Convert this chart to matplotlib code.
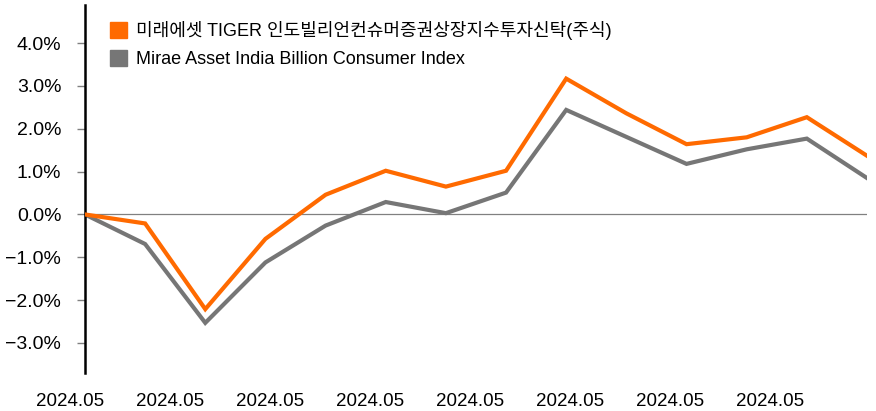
"""Mirae TIGER India Billion Consumer ETF vs. index, cumulative return."""

import matplotlib
matplotlib.use("Agg")
import matplotlib.pyplot as plt
from matplotlib.patches import Patch

plt.rcParams["font.family"] = ["Liberation Sans", "Noto Sans CJK KR"]

FUND_LABEL = "미래에셋 TIGER 인도빌리언컨슈머증권상장지수투자신탁(주식)"
INDEX_LABEL = "Mirae Asset India Billion Consumer Index"

fund = [0.0, -0.21, -2.21, -0.57, 0.46, 1.02, 0.65, 1.02, 3.17, 2.36, 1.64, 1.80, 2.27, 1.37]
index = [0.0, -0.69, -2.53, -1.12, -0.26, 0.29, 0.03, 0.51, 2.44, 1.81, 1.18, 1.52, 1.77, 0.85]

y_ticks = [-3, -2, -1, 0, 1, 2, 3, 4]
x_labels = ["2024.05"] * 8
x_label_pos = [-0.25 + 1.6625 * i for i in range(8)]

ORANGE = "#FF6A00"
GRAY = "#767676"

fig = plt.figure(figsize=(8.76, 4.11), dpi=100)
ax = fig.add_axes([0.097, 0.0925, 0.8927, 0.8955])

x = range(len(fund))
ax.axhline(0, color="#808080", lw=0.9, zorder=1)
ax.plot(x, index, color=GRAY, lw=3.0, solid_joinstyle="miter", zorder=2)
ax.plot(x, fund, color=ORANGE, lw=3.0, solid_joinstyle="miter", zorder=3)

ax.set_xlim(0, len(fund) - 1)
ax.set_ylim(-3.70, 4.89)
ax.set_yticks(y_ticks)
ax.set_yticklabels([f"{v:.1f}%".replace("-", "\u2212") for v in y_ticks], fontsize=14)
ax.tick_params(axis="y", length=6, width=1, color="#808080", pad=11)
ax.set_xticks([])

for side in ("top", "right", "bottom"):
    ax.spines[side].set_visible(False)
ax.spines["left"].set_linewidth(1.8)
ax.spines["left"].set_color("black")

for pos, lab in zip(x_label_pos, x_labels):
    ax.text(pos, -0.078, lab, transform=ax.get_xaxis_transform(), ha="center",
            va="center", fontsize=13.5, clip_on=False)

handles = [Patch(color=ORANGE), Patch(color=GRAY)]
ax.legend(handles, [FUND_LABEL, INDEX_LABEL], loc="upper left",
          bbox_to_anchor=(0.023, 0.975), frameon=False, fontsize=13,
          handlelength=0.95, handleheight=0.95, handletextpad=0.5,
          labelspacing=0.55, borderaxespad=0)

fig.savefig("out.png", dpi=100)
